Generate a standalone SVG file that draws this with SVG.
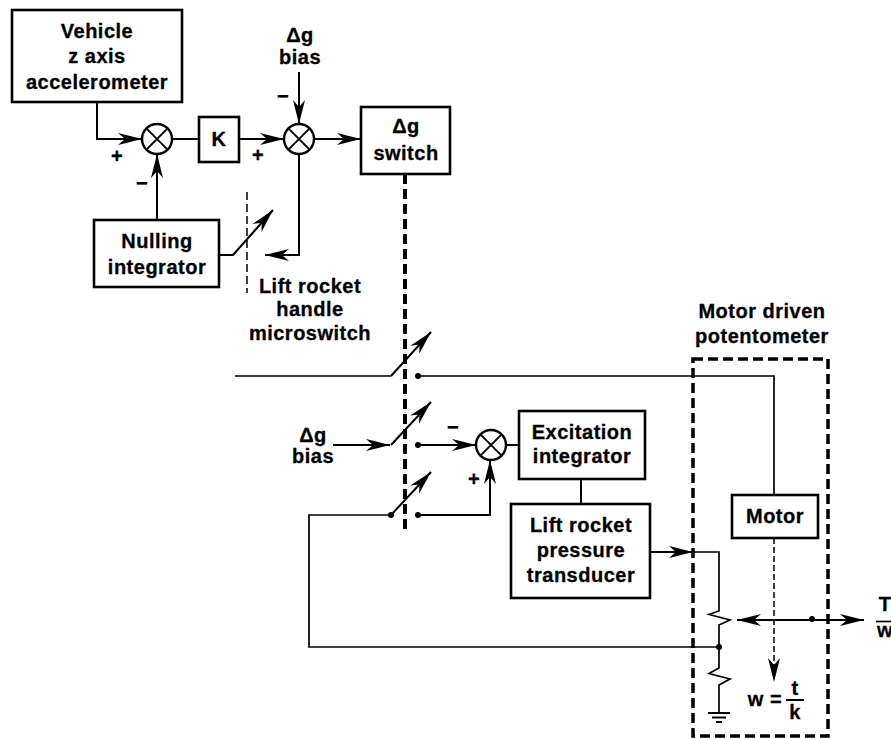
<svg xmlns="http://www.w3.org/2000/svg" width="891" height="739" viewBox="0 0 891 739">
<style>
text{font-family:"Liberation Sans",Arial,Helvetica,sans-serif;font-weight:bold;font-size:20px;letter-spacing:0.5px;fill:#000;stroke:#000;stroke-width:0.3;text-anchor:middle}
.box{fill:#fff;stroke:#000;stroke-width:2.6}
.sum{fill:#fff;stroke:#000;stroke-width:2.4}
.ln{fill:none;stroke:#000;stroke-width:2}
.thin{fill:none;stroke:#000;stroke-width:1.7}
.dthick{fill:none;stroke:#000;stroke-width:4;stroke-dasharray:10 5}
.dbox{fill:none;stroke:#000;stroke-width:3.5;stroke-dasharray:10 5}
.dthin{fill:none;stroke:#000;stroke-width:1.5;stroke-dasharray:8 4}
.dot{fill:#000}
.arr{marker-end:url(#ah)}
</style>
<defs>
<marker id="ah" markerUnits="userSpaceOnUse" markerWidth="26" markerHeight="14" viewBox="0 0 26 14" refX="24" refY="7" orient="auto">
<path d="M24,7 L0,1 L7,7 L0,13 Z" fill="#000"/>
</marker>
</defs>

<g id="connectors">
<path class="ln arr" d="M97,102 V139 H142"/>
<path class="ln arr" d="M157,220 V154"/>
<path class="ln" d="M172,139 H199"/>
<path class="ln arr" d="M239,139 H284"/>
<path class="ln arr" d="M299,72 V124"/>
<path class="ln arr" d="M314,139 H361"/>
<path class="ln arr" d="M299,154 V255 H265"/>
<path class="ln arr" d="M219,255 H233 L273,210"/>
<path class="dthin" d="M247,192 V293"/>
<path class="dthick" d="M405,174 V533"/>

<path class="thin" d="M235,376 H391"/>
<path class="ln arr" d="M391,376 L431,332"/>
<path class="thin" d="M418,376 H774 V495"/>

<path class="ln arr" d="M333,445 H390"/>
<path class="ln arr" d="M391,445 L431,402"/>
<path class="ln arr" d="M418,445 H476"/>
<path class="ln" d="M506,445 H519"/>

<path class="ln arr" d="M391,515 L431,472"/>
<path class="ln arr" d="M418,515 H490 V460"/>
<path class="thin" d="M391,515 H309 V647 H719"/>

<path class="ln" d="M581,479 V504"/>
<path class="ln arr" d="M650,552 H693"/>
<path class="thin" d="M693,552 H719 V611 L709,614.5 L730,620 L719,625 V668 L709,673.5 L730,679 L719,685 V713"/>
<path class="ln" d="M708,713 H730 M712,717.5 H726 M716,722 H722"/>
<path class="ln arr" d="M812,620 H737"/>
<path class="ln arr" d="M812,620 H864"/>
<path class="dthin arr" style="stroke-dasharray:6 3" d="M774,538 V682"/>
<path class="thin" d="M876,621.5 H891"/>

<circle class="dot" cx="418" cy="376" r="3"/>
<circle class="dot" cx="418" cy="445" r="3"/>
<circle class="dot" cx="391" cy="515" r="3"/>
<circle class="dot" cx="418" cy="515" r="3"/>
<circle class="dot" cx="719" cy="647" r="3"/>
<circle class="dot" cx="812" cy="619" r="3"/>
</g>

<g id="vehicle-accelerometer">
<rect class="box" x="12" y="10" width="170" height="92"/>
<text x="97" y="38">Vehicle</text>
<text x="97" y="63">z axis</text>
<text x="97" y="89">accelerometer</text>
</g>

<g id="sum1">
<circle class="sum" cx="157" cy="139" r="15"/>
<path class="ln" d="M146.4,128.4 L167.6,149.6 M167.6,128.4 L146.4,149.6"/>
<text x="117" y="163">+</text>
<text x="142" y="190">−</text>
</g>

<g id="gain-k">
<rect class="box" x="199" y="117" width="40" height="45"/>
<text x="219" y="146">K</text>
</g>

<g id="sum2">
<circle class="sum" cx="299" cy="139" r="15"/>
<path class="ln" d="M288.4,128.4 L309.6,149.6 M309.6,128.4 L288.4,149.6"/>
<text x="258" y="162">+</text>
<text x="283" y="103">−</text>
</g>

<g id="dg-bias-top">
<text x="300" y="42">Δg</text>
<text x="300" y="64">bias</text>
</g>

<g id="dg-switch">
<rect class="box" x="361" y="107" width="89" height="67"/>
<text x="406" y="133">Δg</text>
<text x="406" y="160">switch</text>
</g>

<g id="nulling-integrator">
<rect class="box" x="94" y="220" width="125" height="67"/>
<text x="157" y="248">Nulling</text>
<text x="157" y="274">integrator</text>
</g>

<g id="microswitch-label">
<text x="310" y="293">Lift rocket</text>
<text x="310" y="316">handle</text>
<text x="310" y="340">microswitch</text>
</g>

<g id="dg-bias-left">
<text x="313" y="442">Δg</text>
<text x="313" y="463">bias</text>
</g>

<g id="sum3">
<circle class="sum" cx="491" cy="445" r="15"/>
<path class="ln" d="M480.4,434.4 L501.6,455.6 M501.6,434.4 L480.4,455.6"/>
<text x="453" y="434">−</text>
<text x="474" y="486">+</text>
</g>

<g id="excitation-integrator">
<rect class="box" x="519" y="411" width="126" height="68"/>
<text x="582" y="439">Excitation</text>
<text x="582" y="463">integrator</text>
</g>

<g id="pressure-transducer">
<rect class="box" x="511" y="504" width="139" height="94"/>
<text x="581" y="532">Lift rocket</text>
<text x="581" y="557">pressure</text>
<text x="581" y="582">transducer</text>
</g>

<g id="motor-potentiometer">
<rect class="dbox" x="693" y="359" width="135" height="377"/>
<text x="762" y="318">Motor driven</text>
<text x="762" y="343">potentometer</text>
</g>

<g id="motor">
<rect class="box" x="732" y="495" width="86" height="43"/>
<text x="775" y="523">Motor</text>
</g>

<g id="w-label">
<text x="765" y="706">w =</text>
<text x="795" y="695">t</text>
<path class="ln" d="M786,700 H804"/>
<text x="795" y="719">k</text>
</g>

<g id="t-over-w">
<text x="885" y="611">T</text>
<text x="885" y="637">w</text>
</g>
</svg>
